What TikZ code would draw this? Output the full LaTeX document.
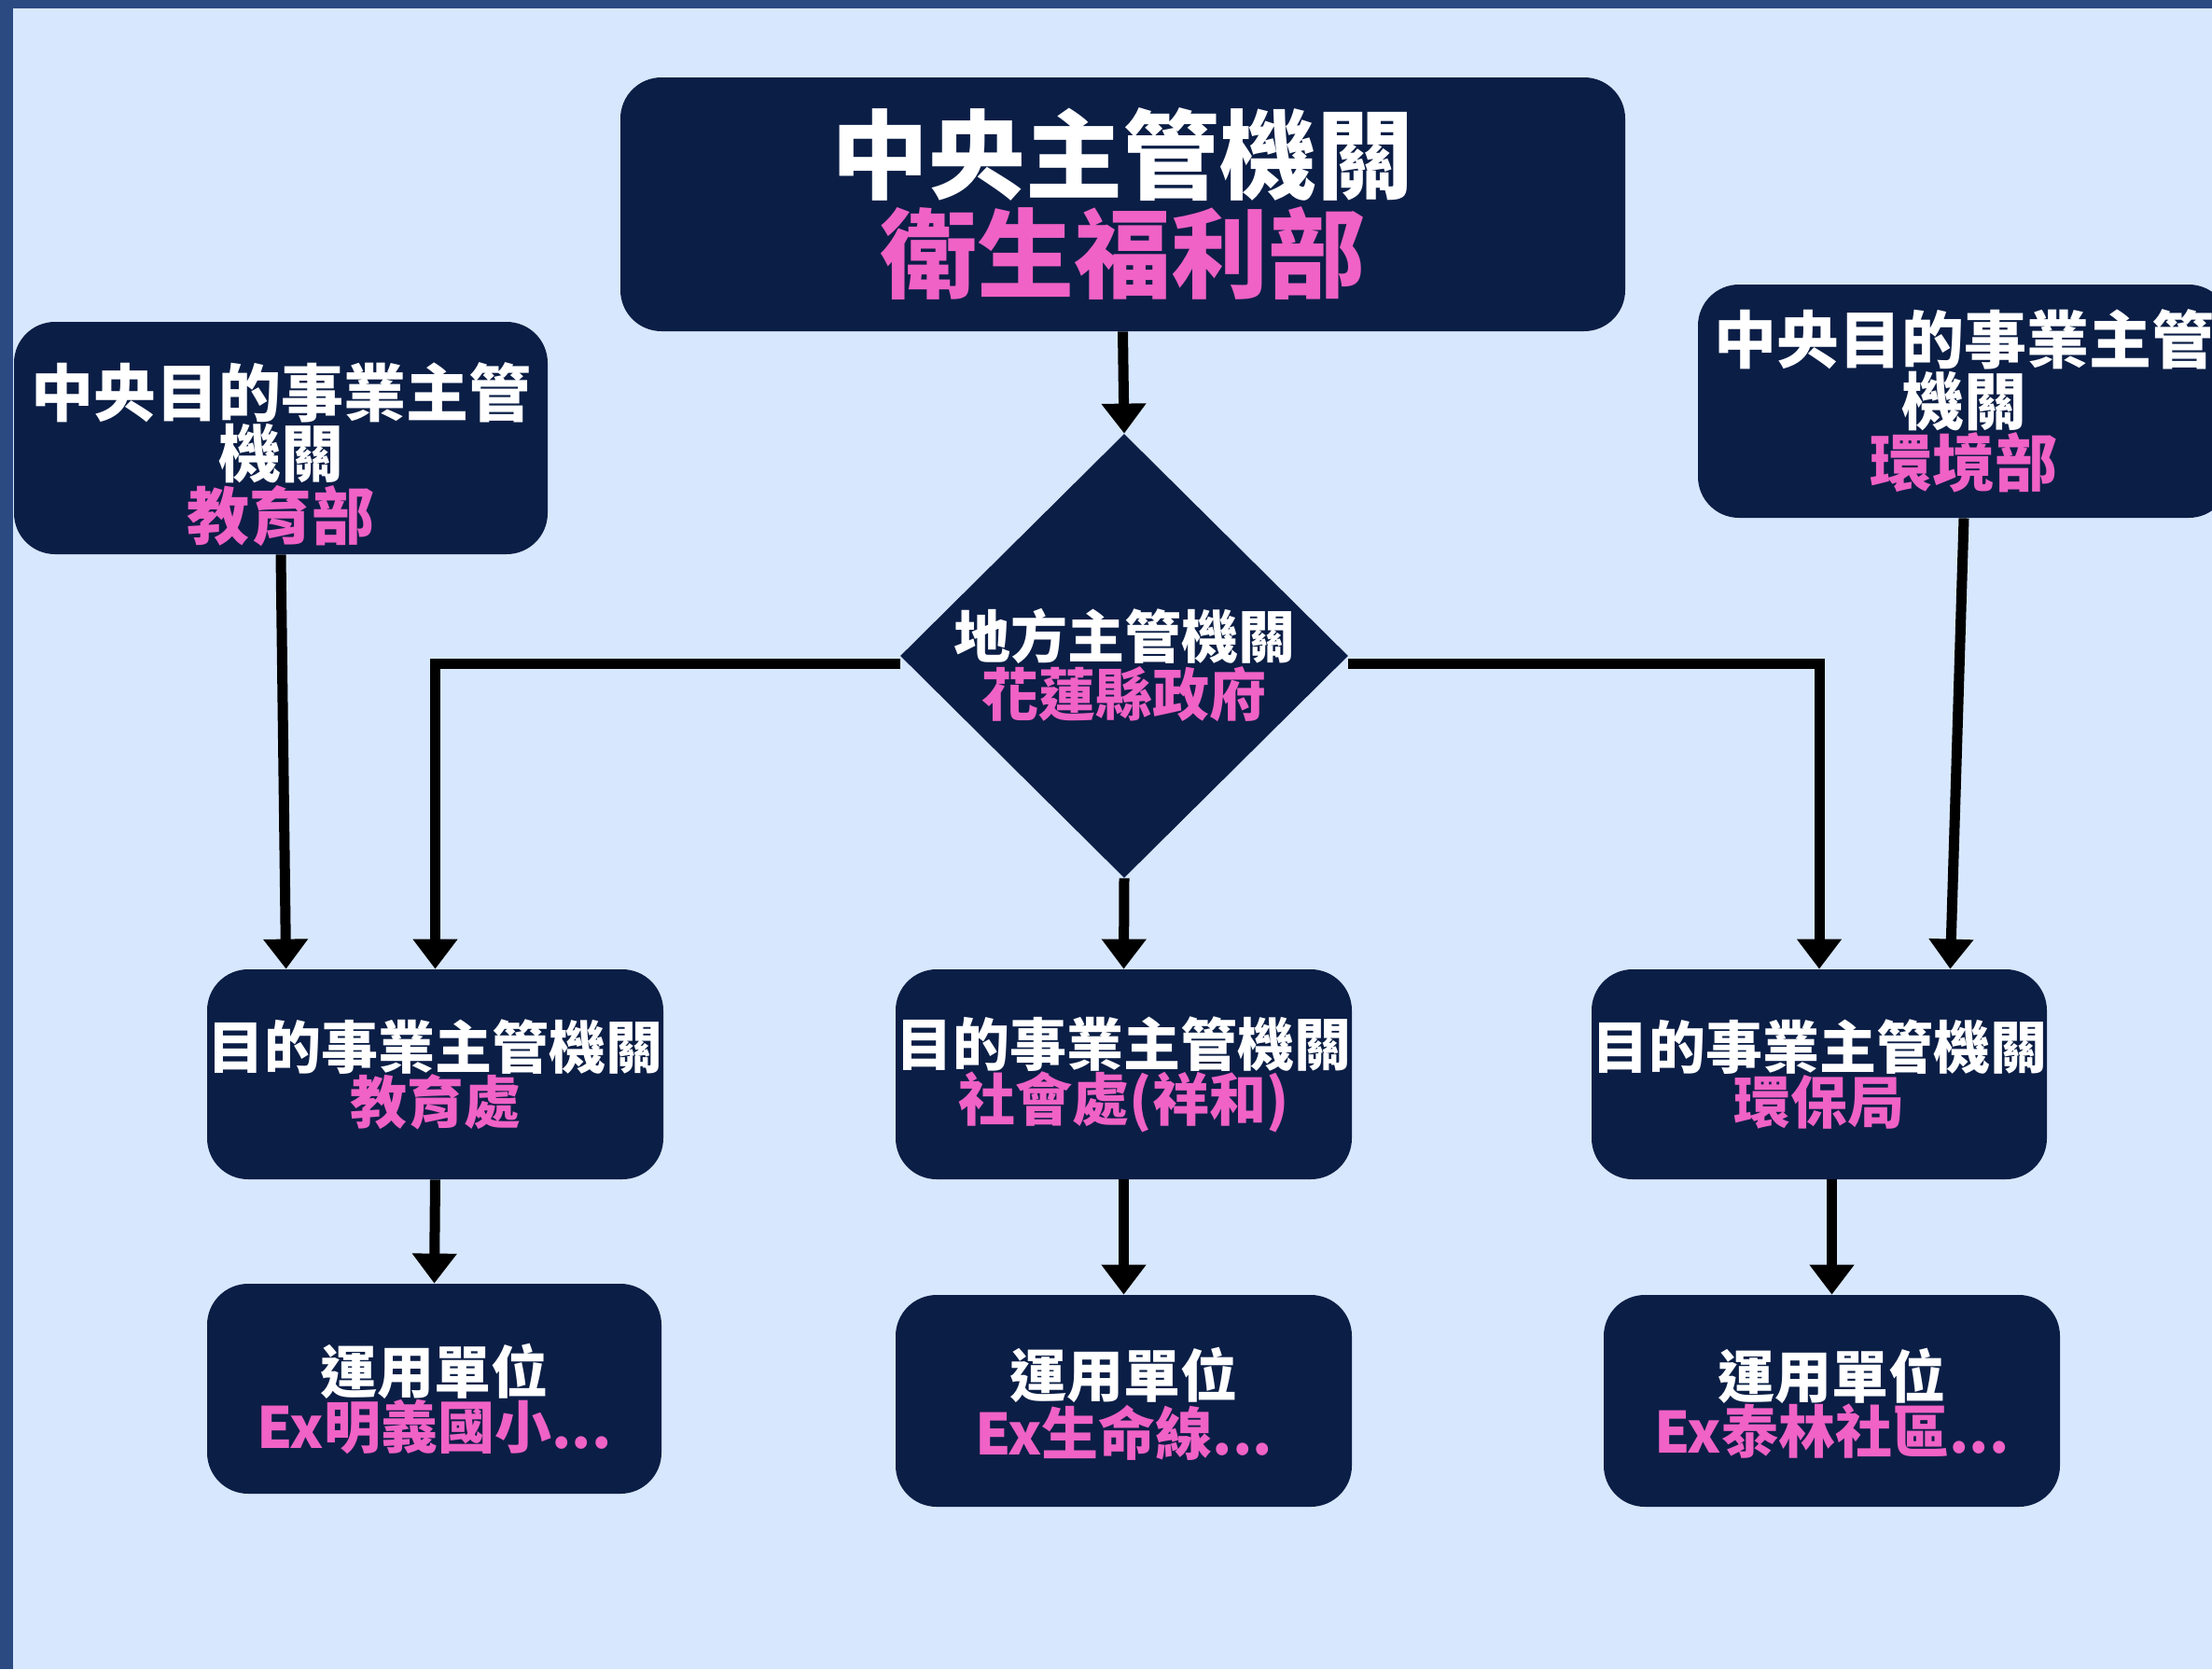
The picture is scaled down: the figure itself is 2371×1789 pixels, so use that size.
\documentclass[tikz,border=0pt]{standalone}
\usepackage{fontspec}
\setmainfont{Noto Sans CJK TC}
\usetikzlibrary{shapes.geometric,arrows.meta}
\definecolor{navy}{HTML}{0B1E46}
\definecolor{pk}{HTML}{F062C6}
\definecolor{bgc}{HTML}{D7E7FD}
\definecolor{frame}{HTML}{2B4A82}
\begin{document}
\begin{tikzpicture}[x=0.5pt,y=-0.5pt,
  box/.style={fill=navy, rounded corners=22pt, inner sep=0pt, align=center, text=white},
  txt/.style={text=white, align=center, inner sep=0pt},
  arr/.style={line width=5.5pt, -{Triangle[width=23pt,length=16pt]}},
  big/.style={font={\bfseries\fontsize{52}{53}\selectfont}},
  mid/.style={font={\bfseries\fontsize{33.5}{31}\selectfont}},
  sml/.style={font={\bfseries\fontsize{30.5}{29.5}\selectfont}},
]
\useasboundingbox (0,0) rectangle (2371,1789);
\clip (0,0) rectangle (2371,1789);
\fill[frame] (0,0) rectangle (2371,1789);
\fill[bgc] (14,9) rectangle (2371,1789);

% top
\node[box, big, minimum width=538.5pt, minimum height=136pt] (top) at (1203.5,219)
  {中央主管機關\\\textcolor{pk}{衛生福利部}};
% left and right central purpose authorities
\node[box, minimum width=286pt, minimum height=124.5pt] (ltop) at (301,469.5) {};
\node[txt, mid] (ltopt) at (301,487)
  {中央目的事業主管\\機關\\\textcolor{pk}{教育部}};
\node[box, mid, minimum width=285pt, minimum height=125pt] (rtop) at (2105,430)
  {中央目的事業主管\\機關\\\textcolor{pk}{環境部}};
% diamond
\node[diamond, fill=navy, minimum width=240pt, minimum height=238pt, inner sep=0pt] (dia) at (1205,703) {};
\node[txt, sml] (diat) at (1205,713) {地方主管機關\\\textcolor{pk}{花蓮縣政府}};
% middle row
\node[box, sml, minimum width=244.5pt, minimum height=112.5pt] (lmid) at (466.5,1151.5)
  {目的事業主管機關\\\textcolor{pk}{教育處}};
\node[box, sml, minimum width=244.5pt, minimum height=112.5pt] (cmid) at (1204.5,1151.5)
  {目的事業主管機關\\\textcolor{pk}{社會處(祥和)}};
\node[box, sml, minimum width=244pt, minimum height=112.5pt] (rmid) at (1950,1151.5)
  {目的事業主管機關\\\textcolor{pk}{環保局}};
% bottom row
\node[box, minimum width=243.5pt, minimum height=112.5pt] (lbot) at (465.5,1488.5) {};
\node[txt, sml] (lbott) at (465.5,1499)
  {運用單位\\\textcolor{pk}{Ex明義國小...}};
\node[box, minimum width=244.5pt, minimum height=113.5pt] (cbot) at (1204.5,1501.5) {};
\node[txt, sml] (cbott) at (1204.5,1505)
  {運用單位\\\textcolor{pk}{Ex生命線...}};
\node[box, minimum width=244.5pt, minimum height=113.5pt] (rbot) at (1963.5,1501.5) {};
\node[txt, sml] (rbott) at (1963.5,1504)
  {運用單位\\\textcolor{pk}{Ex泰林社區...}};

% connectors
\draw[arr] (top.south) -- (dia.north);
\draw[arr] (ltop.south) -- ([xshift=42.5pt]lmid.north west);
\draw[arr] (rtop.south) -- ([xshift=-52pt]rmid.north east);
\draw[arr] ([yshift=-4pt]dia.west) -| (lmid.north);
\draw[arr] ([yshift=-4pt]dia.east) -| (rmid.north);
\draw[arr] (dia.south) -- (cmid.north);
\draw[arr] (lmid.south) -- (lbot.north);
\draw[arr] (cmid.south) -- (cbot.north);
\draw[arr] (rmid.south -| rbot.north) -- (rbot.north);
\end{tikzpicture}
\end{document}
